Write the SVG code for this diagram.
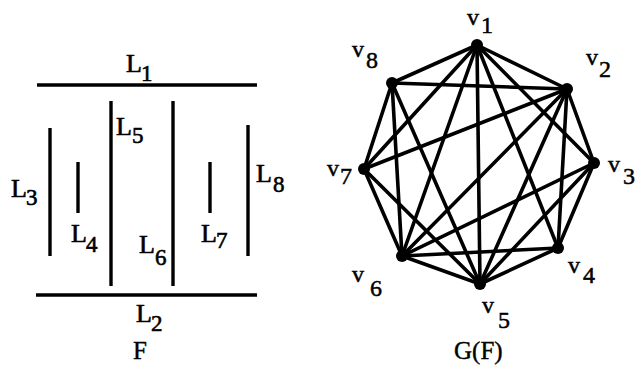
<svg xmlns="http://www.w3.org/2000/svg" width="637" height="392" viewBox="0 0 637 392">
<style>
.seg{stroke:#000;stroke-width:3.4;stroke-linecap:butt;fill:none}
.lbl{font-family:"Liberation Serif","Times New Roman",serif;font-size:26px;fill:#000;stroke:#000;stroke-width:0.6}
.sub{font-size:23px}
.vl{font-family:"Liberation Serif","Times New Roman",serif;font-size:24px;fill:#000;stroke:#000;stroke-width:0.5}
.edge{stroke:#000;stroke-width:3.6;stroke-linecap:round;fill:none}
.dot{fill:#000}
.cap{font-family:"Liberation Serif","Times New Roman",serif;font-size:25px;fill:#000;stroke:#000;stroke-width:0.4}
</style>
<rect width="637" height="392" fill="#fff"/>
<g id="F">
  <g id="L1"><line class="seg" x1="37" y1="85" x2="257" y2="85"/><text class="lbl" x="126" y="72">L<tspan class="sub" x="141" y="81">1</tspan></text></g>
  <g id="L2"><line class="seg" x1="36" y1="295" x2="257" y2="295"/><text class="lbl" x="136" y="322">L<tspan class="sub" x="151" y="331">2</tspan></text></g>
  <g id="L3"><line class="seg" x1="50" y1="128" x2="50" y2="256"/><text class="lbl" x="11" y="197">L<tspan class="sub" x="26" y="205">3</tspan></text></g>
  <g id="L4"><line class="seg" x1="78" y1="162" x2="78" y2="213"/><text class="lbl" x="71" y="242">L<tspan class="sub" x="86" y="252">4</tspan></text></g>
  <g id="L5"><line class="seg" x1="111" y1="101" x2="111" y2="286"/><text class="lbl" x="116" y="135">L<tspan class="sub" x="132" y="143">5</tspan></text></g>
  <g id="L6"><line class="seg" x1="173" y1="101" x2="173" y2="286"/><text class="lbl" x="139" y="253">L<tspan class="sub" x="155" y="265">6</tspan></text></g>
  <g id="L7"><line class="seg" x1="210" y1="162" x2="210" y2="213"/><text class="lbl" x="201" y="242">L<tspan class="sub" x="216" y="248">7</tspan></text></g>
  <g id="L8"><line class="seg" x1="248" y1="125" x2="248" y2="256"/><text class="lbl" x="256" y="182">L<tspan class="sub" x="273" y="192">8</tspan></text></g>
  <text class="cap" x="133" y="359">F</text>
</g>
<g id="edges">
  <line class="edge" x1="477" y1="45" x2="567" y2="89"/>
  <line class="edge" x1="477" y1="45" x2="594" y2="163"/>
  <line class="edge" x1="477" y1="45" x2="558" y2="248"/>
  <line class="edge" x1="477" y1="45" x2="480" y2="284"/>
  <line class="edge" x1="477" y1="45" x2="402" y2="256"/>
  <line class="edge" x1="477" y1="45" x2="364" y2="169"/>
  <line class="edge" x1="477" y1="45" x2="392" y2="83"/>
  <line class="edge" x1="567" y1="89" x2="594" y2="163"/>
  <line class="edge" x1="567" y1="89" x2="558" y2="248"/>
  <line class="edge" x1="567" y1="89" x2="480" y2="284"/>
  <line class="edge" x1="567" y1="89" x2="402" y2="256"/>
  <line class="edge" x1="567" y1="89" x2="364" y2="169"/>
  <line class="edge" x1="567" y1="89" x2="392" y2="83"/>
  <line class="edge" x1="594" y1="163" x2="558" y2="248"/>
  <line class="edge" x1="594" y1="163" x2="480" y2="284"/>
  <line class="edge" x1="594" y1="163" x2="402" y2="256"/>
  <line class="edge" x1="558" y1="248" x2="480" y2="284"/>
  <line class="edge" x1="558" y1="248" x2="402" y2="256"/>
  <line class="edge" x1="480" y1="284" x2="402" y2="256"/>
  <line class="edge" x1="480" y1="284" x2="364" y2="169"/>
  <line class="edge" x1="480" y1="284" x2="392" y2="83"/>
  <line class="edge" x1="402" y1="256" x2="364" y2="169"/>
  <line class="edge" x1="402" y1="256" x2="392" y2="83"/>
  <line class="edge" x1="364" y1="169" x2="392" y2="83"/>
</g>
<g id="v1"><circle class="dot" cx="477" cy="45" r="6"/><text class="vl" x="467" y="25">v<tspan x="481" y="33">1</tspan></text></g>
<g id="v2"><circle class="dot" cx="567" cy="89" r="6"/><text class="vl" x="586" y="65">v<tspan x="599" y="77">2</tspan></text></g>
<g id="v3"><circle class="dot" cx="594" cy="163" r="6"/><text class="vl" x="608" y="172">v<tspan x="623" y="184">3</tspan></text></g>
<g id="v4"><circle class="dot" cx="558" cy="248" r="6"/><text class="vl" x="568" y="273">v<tspan x="583" y="283">4</tspan></text></g>
<g id="v5"><circle class="dot" cx="480" cy="284" r="6"/><text class="vl" x="482" y="313">v<tspan x="498" y="328">5</tspan></text></g>
<g id="v6"><circle class="dot" cx="402" cy="256" r="6"/><text class="vl" x="352" y="282">v<tspan x="370" y="296">6</tspan></text></g>
<g id="v7"><circle class="dot" cx="364" cy="169" r="6"/><text class="vl" x="327" y="176">v<tspan x="340" y="184">7</tspan></text></g>
<g id="v8"><circle class="dot" cx="392" cy="83" r="6"/><text class="vl" x="352" y="57">v<tspan x="366" y="68">8</tspan></text></g>
<text class="cap" x="454" y="359">G(F)</text>
</svg>
